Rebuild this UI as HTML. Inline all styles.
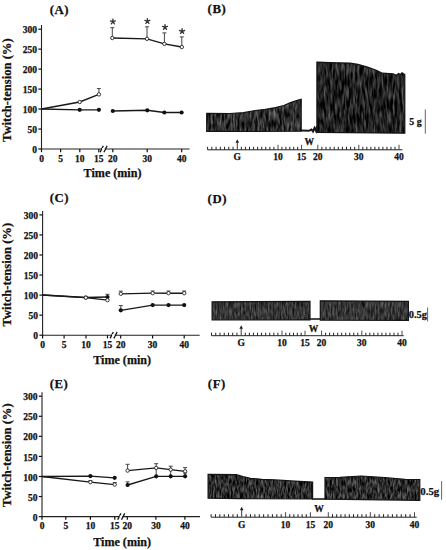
<!DOCTYPE html>
<html><head><meta charset="utf-8"><style>
html,body{margin:0;padding:0;background:#fff;}
svg{display:block;}
text{font-family:'Liberation Serif',serif;font-weight:bold;fill:#111;stroke:#111;stroke-width:0.25px;}
</style></head><body>
<svg width="446" height="550" viewBox="0 0 446 550">
<defs>
<filter id="ntexB1" x="0" y="0" width="100%" height="100%" color-interpolation-filters="sRGB"><feTurbulence type="fractalNoise" baseFrequency="0.45 0.1" numOctaves="2" seed="3"/><feColorMatrix type="matrix" values="0.75 0 0 0 -0.19  0.75 0 0 0 -0.19  0.75 0 0 0 -0.19  0 0 0 0 1"/></filter><filter id="ntexB" x="0" y="0" width="100%" height="100%" color-interpolation-filters="sRGB"><feTurbulence type="fractalNoise" baseFrequency="0.45 0.08" numOctaves="2" seed="7"/><feColorMatrix type="matrix" values="0.7 0 0 0 -0.22  0.7 0 0 0 -0.22  0.7 0 0 0 -0.22  0 0 0 0 1"/></filter><filter id="ntexD" x="0" y="0" width="100%" height="100%" color-interpolation-filters="sRGB"><feTurbulence type="fractalNoise" baseFrequency="0.6 0.12" numOctaves="2" seed="11"/><feColorMatrix type="matrix" values="0.5 0 0 0 -0.04  0.5 0 0 0 -0.04  0.5 0 0 0 -0.04  0 0 0 0 1"/></filter><filter id="ntexF" x="0" y="0" width="100%" height="100%" color-interpolation-filters="sRGB"><feTurbulence type="fractalNoise" baseFrequency="0.6 0.15" numOctaves="2" seed="5"/><feColorMatrix type="matrix" values="0.75 0 0 0 -0.2  0.75 0 0 0 -0.2  0.75 0 0 0 -0.2  0 0 0 0 1"/></filter>
</defs>
<rect width="446" height="550" fill="#fff"/>
<line x1="41.5" y1="25" x2="41.5" y2="149.5" stroke="#222" stroke-width="1.1"/>
<line x1="41.0" y1="149" x2="189.5" y2="149" stroke="#222" stroke-width="1.1"/>
<line x1="38.3" y1="149.00" x2="41.5" y2="149.00" stroke="#111" stroke-width="1.2"/>
<text x="37" y="153.10000000000002" font-size="9.5" text-anchor="end" >0</text>
<line x1="38.3" y1="129.03" x2="41.5" y2="129.03" stroke="#111" stroke-width="1.2"/>
<text x="37" y="133.12500000000003" font-size="9.5" text-anchor="end" >50</text>
<line x1="38.3" y1="109.05" x2="41.5" y2="109.05" stroke="#111" stroke-width="1.2"/>
<text x="37" y="113.14999999999999" font-size="9.5" text-anchor="end" >100</text>
<line x1="38.3" y1="89.07" x2="41.5" y2="89.07" stroke="#111" stroke-width="1.2"/>
<text x="37" y="93.17499999999998" font-size="9.5" text-anchor="end" >150</text>
<line x1="38.3" y1="69.10" x2="41.5" y2="69.10" stroke="#111" stroke-width="1.2"/>
<text x="37" y="73.19999999999999" font-size="9.5" text-anchor="end" >200</text>
<line x1="38.3" y1="49.12" x2="41.5" y2="49.12" stroke="#111" stroke-width="1.2"/>
<text x="37" y="53.224999999999994" font-size="9.5" text-anchor="end" >250</text>
<line x1="38.3" y1="29.15" x2="41.5" y2="29.15" stroke="#111" stroke-width="1.2"/>
<text x="37" y="33.249999999999986" font-size="9.5" text-anchor="end" >300</text>
<line x1="41.5" y1="149" x2="41.5" y2="152.2" stroke="#111" stroke-width="1.2"/>
<text x="41.5" y="162.2" font-size="9.5" text-anchor="middle" >0</text>
<line x1="60.6" y1="149" x2="60.6" y2="152.2" stroke="#111" stroke-width="1.2"/>
<text x="60.6" y="162.2" font-size="9.5" text-anchor="middle" >5</text>
<line x1="79.8" y1="149" x2="79.8" y2="152.2" stroke="#111" stroke-width="1.2"/>
<text x="79.8" y="162.2" font-size="9.5" text-anchor="middle" >10</text>
<line x1="98.8" y1="149" x2="98.8" y2="152.2" stroke="#111" stroke-width="1.2"/>
<text x="98.8" y="162.2" font-size="9.5" text-anchor="middle" >15</text>
<line x1="112.8" y1="149" x2="112.8" y2="152.2" stroke="#111" stroke-width="1.2"/>
<text x="112.8" y="162.2" font-size="9.5" text-anchor="middle" >20</text>
<line x1="147.2" y1="149" x2="147.2" y2="152.2" stroke="#111" stroke-width="1.2"/>
<text x="147.2" y="162.2" font-size="9.5" text-anchor="middle" >30</text>
<line x1="181.7" y1="149" x2="181.7" y2="152.2" stroke="#111" stroke-width="1.2"/>
<text x="181.7" y="162.2" font-size="9.5" text-anchor="middle" >40</text>
<path d="M100.1,152.2 L103.3,145.8 M103.89999999999999,152.2 L107.1,145.8" stroke="#111" stroke-width="1.3"/>
<rect x="102.1" y="148" width="2.5" height="2" fill="#fff"/>
<polyline points="41.5,109 79.7,102 98.9,94.4" fill="none" stroke="#181818" stroke-width="1.35"/>
<polyline points="112.3,38 147,38.8 164.4,43.9 181.8,47" fill="none" stroke="#181818" stroke-width="1.35"/>
<polyline points="41.5,109 79.7,109.8 98.9,109.8" fill="none" stroke="#181818" stroke-width="1.35"/>
<polyline points="112.8,111 147.3,110.3 164.3,112.5 181.6,112.5" fill="none" stroke="#181818" stroke-width="1.35"/>
<line x1="98.9" y1="88.6" x2="98.9" y2="94.4" stroke="#444" stroke-width="1"/>
<line x1="96.9" y1="88.6" x2="100.9" y2="88.6" stroke="#444" stroke-width="1"/>
<line x1="112.3" y1="27.7" x2="112.3" y2="38" stroke="#444" stroke-width="1"/>
<line x1="110.3" y1="27.7" x2="114.3" y2="27.7" stroke="#444" stroke-width="1"/>
<line x1="147" y1="26.8" x2="147" y2="38.8" stroke="#444" stroke-width="1"/>
<line x1="145" y1="26.8" x2="149" y2="26.8" stroke="#444" stroke-width="1"/>
<line x1="164.4" y1="32.9" x2="164.4" y2="43.9" stroke="#444" stroke-width="1"/>
<line x1="162.4" y1="32.9" x2="166.4" y2="32.9" stroke="#444" stroke-width="1"/>
<line x1="181.8" y1="36.9" x2="181.8" y2="47" stroke="#444" stroke-width="1"/>
<line x1="179.8" y1="36.9" x2="183.8" y2="36.9" stroke="#444" stroke-width="1"/>
<circle cx="79.7" cy="102" r="1.7" fill="#fff" stroke="#222" stroke-width="0.9"/>
<circle cx="98.9" cy="94.4" r="1.7" fill="#fff" stroke="#222" stroke-width="0.9"/>
<circle cx="112.3" cy="38" r="1.7" fill="#fff" stroke="#222" stroke-width="0.9"/>
<circle cx="147" cy="38.8" r="1.7" fill="#fff" stroke="#222" stroke-width="0.9"/>
<circle cx="164.4" cy="43.9" r="1.7" fill="#fff" stroke="#222" stroke-width="0.9"/>
<circle cx="181.8" cy="47" r="1.7" fill="#fff" stroke="#222" stroke-width="0.9"/>
<circle cx="79.7" cy="109.8" r="2.1" fill="#111"/>
<circle cx="98.9" cy="109.8" r="2.1" fill="#111"/>
<circle cx="112.8" cy="111" r="2.1" fill="#111"/>
<circle cx="147.3" cy="110.3" r="2.1" fill="#111"/>
<circle cx="164.3" cy="112.5" r="2.1" fill="#111"/>
<circle cx="181.6" cy="112.5" r="2.1" fill="#111"/>
<path d="M112.90,21.70 L112.90,19.10 M112.90,21.70 L115.37,20.90 M112.90,21.70 L114.43,23.80 M112.90,21.70 L111.37,23.80 M112.90,21.70 L110.43,20.90 " stroke="#333" stroke-width="1.35" stroke-linecap="round"/>
<path d="M147.40,21.20 L147.40,18.60 M147.40,21.20 L149.87,20.40 M147.40,21.20 L148.93,23.30 M147.40,21.20 L145.87,23.30 M147.40,21.20 L144.93,20.40 " stroke="#333" stroke-width="1.35" stroke-linecap="round"/>
<path d="M165.00,27.20 L165.00,24.60 M165.00,27.20 L167.47,26.40 M165.00,27.20 L166.53,29.30 M165.00,27.20 L163.47,29.30 M165.00,27.20 L162.53,26.40 " stroke="#333" stroke-width="1.35" stroke-linecap="round"/>
<path d="M182.10,31.30 L182.10,28.70 M182.10,31.30 L184.57,30.50 M182.10,31.30 L183.63,33.40 M182.10,31.30 L180.57,33.40 M182.10,31.30 L179.63,30.50 " stroke="#333" stroke-width="1.35" stroke-linecap="round"/>
<text x="49.8" y="13.6" font-size="12.8" text-anchor="start" letter-spacing="0.5">(A)</text>
<text x="0" y="0" font-size="12.6" transform="translate(11.4,142) rotate(-90)">Twitch-tension (%)</text>
<text x="83.6" y="176.9" font-size="12.1" text-anchor="start" >Time (min)</text>
<line x1="42.6" y1="211" x2="42.6" y2="335.7" stroke="#222" stroke-width="1.1"/>
<line x1="42.1" y1="335.2" x2="199.7" y2="335.2" stroke="#222" stroke-width="1.1"/>
<line x1="39.4" y1="335.20" x2="42.6" y2="335.20" stroke="#111" stroke-width="1.2"/>
<text x="38" y="339.3" font-size="9.5" text-anchor="end" >0</text>
<line x1="39.4" y1="315.15" x2="42.6" y2="315.15" stroke="#111" stroke-width="1.2"/>
<text x="38" y="319.25" font-size="9.5" text-anchor="end" >50</text>
<line x1="39.4" y1="295.10" x2="42.6" y2="295.10" stroke="#111" stroke-width="1.2"/>
<text x="38" y="299.2" font-size="9.5" text-anchor="end" >100</text>
<line x1="39.4" y1="275.05" x2="42.6" y2="275.05" stroke="#111" stroke-width="1.2"/>
<text x="38" y="279.15" font-size="9.5" text-anchor="end" >150</text>
<line x1="39.4" y1="255.00" x2="42.6" y2="255.00" stroke="#111" stroke-width="1.2"/>
<text x="38" y="259.1" font-size="9.5" text-anchor="end" >200</text>
<line x1="39.4" y1="234.95" x2="42.6" y2="234.95" stroke="#111" stroke-width="1.2"/>
<text x="38" y="239.05" font-size="9.5" text-anchor="end" >250</text>
<line x1="39.4" y1="214.90" x2="42.6" y2="214.90" stroke="#111" stroke-width="1.2"/>
<text x="38" y="219.0" font-size="9.5" text-anchor="end" >300</text>
<line x1="42.6" y1="335.2" x2="42.6" y2="338.4" stroke="#111" stroke-width="1.2"/>
<text x="42.6" y="348.3" font-size="9.5" text-anchor="middle" >0</text>
<line x1="64.1" y1="335.2" x2="64.1" y2="338.4" stroke="#111" stroke-width="1.2"/>
<text x="64.1" y="348.3" font-size="9.5" text-anchor="middle" >5</text>
<line x1="86" y1="335.2" x2="86" y2="338.4" stroke="#111" stroke-width="1.2"/>
<text x="86" y="348.3" font-size="9.5" text-anchor="middle" >10</text>
<line x1="107.5" y1="335.2" x2="107.5" y2="338.4" stroke="#111" stroke-width="1.2"/>
<text x="107.5" y="348.3" font-size="9.5" text-anchor="middle" >15</text>
<line x1="120.7" y1="335.2" x2="120.7" y2="338.4" stroke="#111" stroke-width="1.2"/>
<text x="120.7" y="348.3" font-size="9.5" text-anchor="middle" >20</text>
<line x1="152.6" y1="335.2" x2="152.6" y2="338.4" stroke="#111" stroke-width="1.2"/>
<text x="152.6" y="348.3" font-size="9.5" text-anchor="middle" >30</text>
<line x1="184.2" y1="335.2" x2="184.2" y2="338.4" stroke="#111" stroke-width="1.2"/>
<text x="184.2" y="348.3" font-size="9.5" text-anchor="middle" >40</text>
<path d="M110.1,338.4 L113.3,332.0 M113.89999999999999,338.4 L117.1,332.0" stroke="#111" stroke-width="1.3"/>
<rect x="112.1" y="334.2" width="2.5" height="2" fill="#fff"/>
<polyline points="42.6,295 85.8,297.5 107.5,297" fill="none" stroke="#181818" stroke-width="1.35"/>
<polyline points="120.8,310.3 152.7,305.1 168.5,305.1 184.2,305.1" fill="none" stroke="#181818" stroke-width="1.35"/>
<polyline points="42.6,295 85.8,297.7 107.5,300.2" fill="none" stroke="#181818" stroke-width="1.35"/>
<polyline points="120.8,293.8 152.7,293.2 168.5,293.2 184.2,293.2" fill="none" stroke="#181818" stroke-width="1.35"/>
<line x1="107.5" y1="294.3" x2="107.5" y2="297" stroke="#444" stroke-width="1"/>
<line x1="105.5" y1="294.3" x2="109.5" y2="294.3" stroke="#444" stroke-width="1"/>
<line x1="120.8" y1="305.6" x2="120.8" y2="310.3" stroke="#444" stroke-width="1"/>
<line x1="118.8" y1="305.6" x2="122.8" y2="305.6" stroke="#444" stroke-width="1"/>
<line x1="120.8" y1="291.2" x2="120.8" y2="293.8" stroke="#444" stroke-width="1"/>
<line x1="118.8" y1="291.2" x2="122.8" y2="291.2" stroke="#444" stroke-width="1"/>
<line x1="152.7" y1="291" x2="152.7" y2="293.2" stroke="#444" stroke-width="1"/>
<line x1="150.7" y1="291" x2="154.7" y2="291" stroke="#444" stroke-width="1"/>
<line x1="168.5" y1="291" x2="168.5" y2="293.2" stroke="#444" stroke-width="1"/>
<line x1="166.5" y1="291" x2="170.5" y2="291" stroke="#444" stroke-width="1"/>
<line x1="184.2" y1="291" x2="184.2" y2="293.2" stroke="#444" stroke-width="1"/>
<line x1="182.2" y1="291" x2="186.2" y2="291" stroke="#444" stroke-width="1"/>
<circle cx="85.8" cy="297.5" r="2.1" fill="#111"/>
<circle cx="107.5" cy="297" r="2.1" fill="#111"/>
<circle cx="120.8" cy="310.3" r="2.1" fill="#111"/>
<circle cx="152.7" cy="305.1" r="2.1" fill="#111"/>
<circle cx="168.5" cy="305.1" r="2.1" fill="#111"/>
<circle cx="184.2" cy="305.1" r="2.1" fill="#111"/>
<circle cx="85.8" cy="297.7" r="1.7" fill="#fff" stroke="#222" stroke-width="0.9"/>
<circle cx="107.5" cy="300.2" r="1.7" fill="#fff" stroke="#222" stroke-width="0.9"/>
<circle cx="120.8" cy="293.8" r="1.7" fill="#fff" stroke="#222" stroke-width="0.9"/>
<circle cx="152.7" cy="293.2" r="1.7" fill="#fff" stroke="#222" stroke-width="0.9"/>
<circle cx="168.5" cy="293.2" r="1.7" fill="#fff" stroke="#222" stroke-width="0.9"/>
<circle cx="184.2" cy="293.2" r="1.7" fill="#fff" stroke="#222" stroke-width="0.9"/>
<text x="49.7" y="202.4" font-size="12.8" text-anchor="start" letter-spacing="0.5">(C)</text>
<text x="0" y="0" font-size="12.6" transform="translate(11.4,326.5) rotate(-90)">Twitch-tension (%)</text>
<text x="93.2" y="364.4" font-size="12.1" text-anchor="start" >Time (min)</text>
<line x1="42" y1="392.2" x2="42" y2="517.1" stroke="#222" stroke-width="1.1"/>
<line x1="41.5" y1="516.6" x2="200" y2="516.6" stroke="#222" stroke-width="1.1"/>
<line x1="38.8" y1="516.60" x2="42" y2="516.60" stroke="#111" stroke-width="1.2"/>
<text x="37.5" y="520.6999999999999" font-size="9.5" text-anchor="end" >0</text>
<line x1="38.8" y1="496.54" x2="42" y2="496.54" stroke="#111" stroke-width="1.2"/>
<text x="37.5" y="500.63500000000005" font-size="9.5" text-anchor="end" >50</text>
<line x1="38.8" y1="476.47" x2="42" y2="476.47" stroke="#111" stroke-width="1.2"/>
<text x="37.5" y="480.57000000000005" font-size="9.5" text-anchor="end" >100</text>
<line x1="38.8" y1="456.41" x2="42" y2="456.41" stroke="#111" stroke-width="1.2"/>
<text x="37.5" y="460.50500000000005" font-size="9.5" text-anchor="end" >150</text>
<line x1="38.8" y1="436.34" x2="42" y2="436.34" stroke="#111" stroke-width="1.2"/>
<text x="37.5" y="440.44000000000005" font-size="9.5" text-anchor="end" >200</text>
<line x1="38.8" y1="416.28" x2="42" y2="416.28" stroke="#111" stroke-width="1.2"/>
<text x="37.5" y="420.37500000000006" font-size="9.5" text-anchor="end" >250</text>
<line x1="38.8" y1="396.21" x2="42" y2="396.21" stroke="#111" stroke-width="1.2"/>
<text x="37.5" y="400.31000000000006" font-size="9.5" text-anchor="end" >300</text>
<line x1="42" y1="516.6" x2="42" y2="519.8000000000001" stroke="#111" stroke-width="1.2"/>
<text x="42" y="529" font-size="9.5" text-anchor="middle" >0</text>
<line x1="65.8" y1="516.6" x2="65.8" y2="519.8000000000001" stroke="#111" stroke-width="1.2"/>
<text x="65.8" y="529" font-size="9.5" text-anchor="middle" >5</text>
<line x1="90.4" y1="516.6" x2="90.4" y2="519.8000000000001" stroke="#111" stroke-width="1.2"/>
<text x="90.4" y="529" font-size="9.5" text-anchor="middle" >10</text>
<line x1="114.8" y1="516.6" x2="114.8" y2="519.8000000000001" stroke="#111" stroke-width="1.2"/>
<text x="114.8" y="529" font-size="9.5" text-anchor="middle" >15</text>
<line x1="127.3" y1="516.6" x2="127.3" y2="519.8000000000001" stroke="#111" stroke-width="1.2"/>
<text x="127.3" y="529" font-size="9.5" text-anchor="middle" >20</text>
<line x1="155.9" y1="516.6" x2="155.9" y2="519.8000000000001" stroke="#111" stroke-width="1.2"/>
<text x="155.9" y="529" font-size="9.5" text-anchor="middle" >30</text>
<line x1="184.9" y1="516.6" x2="184.9" y2="519.8000000000001" stroke="#111" stroke-width="1.2"/>
<text x="184.9" y="529" font-size="9.5" text-anchor="middle" >40</text>
<path d="M117.7,519.8000000000001 L120.9,513.4 M121.5,519.8000000000001 L124.7,513.4" stroke="#111" stroke-width="1.3"/>
<rect x="119.7" y="515.6" width="2.5" height="2" fill="#fff"/>
<polyline points="42,476.5 90.4,482.2 114.7,484.6" fill="none" stroke="#181818" stroke-width="1.35"/>
<polyline points="127.6,470.6 156.2,467.9 170.7,469.6 185.1,471.3" fill="none" stroke="#181818" stroke-width="1.35"/>
<polyline points="42,476.5 90.4,476.1 114.7,477.8" fill="none" stroke="#181818" stroke-width="1.35"/>
<polyline points="127.6,485 156.2,476.3 170.7,476.3 185.1,476.3" fill="none" stroke="#181818" stroke-width="1.35"/>
<line x1="156.2" y1="467.9" x2="156.2" y2="475" stroke="#444" stroke-width="1"/>
<line x1="170.7" y1="469.6" x2="170.7" y2="475" stroke="#444" stroke-width="1"/>
<line x1="185.1" y1="471.3" x2="185.1" y2="475" stroke="#444" stroke-width="1"/>
<line x1="90.4" y1="480.6" x2="90.4" y2="482.2" stroke="#444" stroke-width="1"/>
<line x1="88.4" y1="480.6" x2="92.4" y2="480.6" stroke="#444" stroke-width="1"/>
<line x1="114.7" y1="482.6" x2="114.7" y2="484.6" stroke="#444" stroke-width="1"/>
<line x1="112.7" y1="482.6" x2="116.7" y2="482.6" stroke="#444" stroke-width="1"/>
<line x1="127.6" y1="464.3" x2="127.6" y2="470.6" stroke="#444" stroke-width="1"/>
<line x1="125.6" y1="464.3" x2="129.6" y2="464.3" stroke="#444" stroke-width="1"/>
<line x1="156.2" y1="463.7" x2="156.2" y2="467.9" stroke="#444" stroke-width="1"/>
<line x1="154.2" y1="463.7" x2="158.2" y2="463.7" stroke="#444" stroke-width="1"/>
<line x1="170.7" y1="466.2" x2="170.7" y2="469.6" stroke="#444" stroke-width="1"/>
<line x1="168.7" y1="466.2" x2="172.7" y2="466.2" stroke="#444" stroke-width="1"/>
<line x1="185.1" y1="467.6" x2="185.1" y2="471.3" stroke="#444" stroke-width="1"/>
<line x1="183.1" y1="467.6" x2="187.1" y2="467.6" stroke="#444" stroke-width="1"/>
<line x1="127.6" y1="481.9" x2="127.6" y2="485" stroke="#444" stroke-width="1"/>
<line x1="125.6" y1="481.9" x2="129.6" y2="481.9" stroke="#444" stroke-width="1"/>
<line x1="185.1" y1="473" x2="185.1" y2="476.3" stroke="#444" stroke-width="1"/>
<line x1="183.1" y1="473" x2="187.1" y2="473" stroke="#444" stroke-width="1"/>
<circle cx="90.4" cy="482.2" r="1.7" fill="#fff" stroke="#222" stroke-width="0.9"/>
<circle cx="114.7" cy="484.6" r="1.7" fill="#fff" stroke="#222" stroke-width="0.9"/>
<circle cx="127.6" cy="470.6" r="1.7" fill="#fff" stroke="#222" stroke-width="0.9"/>
<circle cx="156.2" cy="467.9" r="1.7" fill="#fff" stroke="#222" stroke-width="0.9"/>
<circle cx="170.7" cy="469.6" r="1.7" fill="#fff" stroke="#222" stroke-width="0.9"/>
<circle cx="185.1" cy="471.3" r="1.7" fill="#fff" stroke="#222" stroke-width="0.9"/>
<circle cx="90.4" cy="476.1" r="2.1" fill="#111"/>
<circle cx="114.7" cy="477.8" r="2.1" fill="#111"/>
<circle cx="127.6" cy="485" r="2.1" fill="#111"/>
<circle cx="156.2" cy="476.3" r="2.1" fill="#111"/>
<circle cx="170.7" cy="476.3" r="2.1" fill="#111"/>
<circle cx="185.1" cy="476.3" r="2.1" fill="#111"/>
<text x="49.7" y="387.5" font-size="12.8" text-anchor="start" letter-spacing="0.5">(E)</text>
<text x="0" y="0" font-size="12.6" transform="translate(11.4,507) rotate(-90)">Twitch-tension (%)</text>
<text x="93.2" y="545.5" font-size="12.1" text-anchor="start" >Time (min)</text>
<clipPath id="clip198"><polygon points="206.7,113.3 230,113.5 243.5,112.7 255.2,110.5 265.3,109.3 275.4,107.7 283.8,105.5 290.5,102.6 297.3,100.4 301.2,99.2 301.2,131.2 206.7,131.4"/></clipPath>
<rect x="205.7" y="98.2" width="96.5" height="34.2" filter="url(#ntexB1)" clip-path="url(#clip198)"/>
<polygon points="206.7,113.3 230,113.5 243.5,112.7 255.2,110.5 265.3,109.3 275.4,107.7 283.8,105.5 290.5,102.6 297.3,100.4 301.2,99.2 301.2,131.2 206.7,131.4" fill="none" stroke="#141414" stroke-width="1.2"/>
<clipPath id="clip201"><polygon points="316.9,62.2 330,62.7 350,63.1 358,64.4 367.5,67.1 376.9,70.5 382.3,73.2 393,73.8 396.4,75.2 398.5,73.5 400.5,74.5 402,72.8 404.8,74.5 404.8,133.2 316.9,132.4"/></clipPath>
<rect x="315.9" y="61.2" width="89.90000000000003" height="72.99999999999999" filter="url(#ntexB)" clip-path="url(#clip201)"/>
<polygon points="316.9,62.2 330,62.7 350,63.1 358,64.4 367.5,67.1 376.9,70.5 382.3,73.2 393,73.8 396.4,75.2 398.5,73.5 400.5,74.5 402,72.8 404.8,74.5 404.8,133.2 316.9,132.4" fill="none" stroke="#141414" stroke-width="1.2"/>
<polyline points="301,130.4 309,130.8 311.5,129.5 313,131.5 314.5,128 316,131 317,126" fill="none" stroke="#1a1a1a" stroke-width="2.0"/>
<line x1="207.6" y1="149.8" x2="402.5" y2="149.8" stroke="#222" stroke-width="1"/>
<line x1="207.60" y1="146.8" x2="207.60" y2="149.8" stroke="#222" stroke-width="1"/>
<line x1="211.84" y1="146.8" x2="211.84" y2="149.8" stroke="#222" stroke-width="1"/>
<line x1="216.09" y1="146.8" x2="216.09" y2="149.8" stroke="#222" stroke-width="1"/>
<line x1="220.33" y1="146.8" x2="220.33" y2="149.8" stroke="#222" stroke-width="1"/>
<line x1="224.57" y1="146.8" x2="224.57" y2="149.8" stroke="#222" stroke-width="1"/>
<line x1="228.81" y1="146.8" x2="228.81" y2="149.8" stroke="#222" stroke-width="1"/>
<line x1="233.06" y1="146.8" x2="233.06" y2="149.8" stroke="#222" stroke-width="1"/>
<line x1="241.37" y1="146.8" x2="241.37" y2="149.8" stroke="#222" stroke-width="1"/>
<line x1="245.44" y1="146.8" x2="245.44" y2="149.8" stroke="#222" stroke-width="1"/>
<line x1="249.51" y1="146.8" x2="249.51" y2="149.8" stroke="#222" stroke-width="1"/>
<line x1="253.58" y1="146.8" x2="253.58" y2="149.8" stroke="#222" stroke-width="1"/>
<line x1="257.65" y1="146.8" x2="257.65" y2="149.8" stroke="#222" stroke-width="1"/>
<line x1="261.72" y1="146.8" x2="261.72" y2="149.8" stroke="#222" stroke-width="1"/>
<line x1="265.79" y1="146.8" x2="265.79" y2="149.8" stroke="#222" stroke-width="1"/>
<line x1="269.86" y1="146.8" x2="269.86" y2="149.8" stroke="#222" stroke-width="1"/>
<line x1="273.93" y1="146.8" x2="273.93" y2="149.8" stroke="#222" stroke-width="1"/>
<line x1="281.93" y1="146.8" x2="281.93" y2="149.8" stroke="#222" stroke-width="1"/>
<line x1="285.87" y1="146.8" x2="285.87" y2="149.8" stroke="#222" stroke-width="1"/>
<line x1="289.80" y1="146.8" x2="289.80" y2="149.8" stroke="#222" stroke-width="1"/>
<line x1="293.73" y1="146.8" x2="293.73" y2="149.8" stroke="#222" stroke-width="1"/>
<line x1="297.67" y1="146.8" x2="297.67" y2="149.8" stroke="#222" stroke-width="1"/>
<line x1="321.90" y1="146.8" x2="321.90" y2="149.8" stroke="#222" stroke-width="1"/>
<line x1="326.00" y1="146.8" x2="326.00" y2="149.8" stroke="#222" stroke-width="1"/>
<line x1="330.10" y1="146.8" x2="330.10" y2="149.8" stroke="#222" stroke-width="1"/>
<line x1="334.20" y1="146.8" x2="334.20" y2="149.8" stroke="#222" stroke-width="1"/>
<line x1="338.30" y1="146.8" x2="338.30" y2="149.8" stroke="#222" stroke-width="1"/>
<line x1="342.40" y1="146.8" x2="342.40" y2="149.8" stroke="#222" stroke-width="1"/>
<line x1="346.50" y1="146.8" x2="346.50" y2="149.8" stroke="#222" stroke-width="1"/>
<line x1="350.60" y1="146.8" x2="350.60" y2="149.8" stroke="#222" stroke-width="1"/>
<line x1="354.70" y1="146.8" x2="354.70" y2="149.8" stroke="#222" stroke-width="1"/>
<line x1="362.82" y1="146.8" x2="362.82" y2="149.8" stroke="#222" stroke-width="1"/>
<line x1="366.84" y1="146.8" x2="366.84" y2="149.8" stroke="#222" stroke-width="1"/>
<line x1="370.86" y1="146.8" x2="370.86" y2="149.8" stroke="#222" stroke-width="1"/>
<line x1="374.88" y1="146.8" x2="374.88" y2="149.8" stroke="#222" stroke-width="1"/>
<line x1="378.90" y1="146.8" x2="378.90" y2="149.8" stroke="#222" stroke-width="1"/>
<line x1="382.92" y1="146.8" x2="382.92" y2="149.8" stroke="#222" stroke-width="1"/>
<line x1="386.94" y1="146.8" x2="386.94" y2="149.8" stroke="#222" stroke-width="1"/>
<line x1="390.96" y1="146.8" x2="390.96" y2="149.8" stroke="#222" stroke-width="1"/>
<line x1="394.98" y1="146.8" x2="394.98" y2="149.8" stroke="#222" stroke-width="1"/>
<line x1="278" y1="144.8" x2="278" y2="149.8" stroke="#333" stroke-width="0.9"/>
<text x="278" y="160" font-size="9.5" text-anchor="middle" >10</text>
<line x1="301.6" y1="144.8" x2="301.6" y2="149.8" stroke="#333" stroke-width="0.9"/>
<text x="301.6" y="160" font-size="9.5" text-anchor="middle" >15</text>
<line x1="317.8" y1="144.8" x2="317.8" y2="149.8" stroke="#333" stroke-width="0.9"/>
<text x="317.8" y="160" font-size="9.5" text-anchor="middle" >20</text>
<line x1="358.8" y1="144.8" x2="358.8" y2="149.8" stroke="#333" stroke-width="0.9"/>
<text x="358.8" y="160" font-size="9.5" text-anchor="middle" >30</text>
<line x1="399" y1="144.8" x2="399" y2="149.8" stroke="#333" stroke-width="0.9"/>
<text x="399" y="160" font-size="9.5" text-anchor="middle" >40</text>
<line x1="237.3" y1="149.3" x2="237.3" y2="141.8" stroke="#222" stroke-width="0.9"/>
<path d="M235.5,142.8 L237.3,139.3 L239.10000000000002,142.8 Z" fill="#222"/>
<text x="237.3" y="160" font-size="9.5" text-anchor="middle" >G</text>
<text x="309.3" y="145.3" font-size="9.5" text-anchor="middle" >W</text>
<text x="409.3" y="124.7" font-size="9.8" text-anchor="start" >5 g</text>
<line x1="425.3" y1="109.4" x2="425.3" y2="133.7" stroke="#666" stroke-width="1"/>
<text x="207.6" y="13.2" font-size="12.8" text-anchor="start" letter-spacing="0.6">(B)</text>
<clipPath id="clip262"><polygon points="212.1,301.8 310,301.4 310,319.9 212.1,319.8"/></clipPath>
<rect x="211.1" y="300.4" width="99.9" height="20.5" filter="url(#ntexD)" clip-path="url(#clip262)"/>
<polygon points="212.1,301.8 310,301.4 310,319.9 212.1,319.8" fill="none" stroke="#141414" stroke-width="1.2"/>
<clipPath id="clip265"><polygon points="320.3,300.8 408.4,301.3 408.4,320.3 320.3,320.1"/></clipPath>
<rect x="319.3" y="299.8" width="90.09999999999997" height="21.5" filter="url(#ntexD)" clip-path="url(#clip265)"/>
<polygon points="320.3,300.8 408.4,301.3 408.4,320.3 320.3,320.1" fill="none" stroke="#141414" stroke-width="1.2"/>
<polyline points="309.5,319 321,319" fill="none" stroke="#1a1a1a" stroke-width="1.6"/>
<line x1="211.5" y1="335.7" x2="403.7" y2="335.7" stroke="#222" stroke-width="1"/>
<line x1="211.50" y1="332.7" x2="211.50" y2="335.7" stroke="#222" stroke-width="1"/>
<line x1="215.74" y1="332.7" x2="215.74" y2="335.7" stroke="#222" stroke-width="1"/>
<line x1="219.99" y1="332.7" x2="219.99" y2="335.7" stroke="#222" stroke-width="1"/>
<line x1="224.23" y1="332.7" x2="224.23" y2="335.7" stroke="#222" stroke-width="1"/>
<line x1="228.47" y1="332.7" x2="228.47" y2="335.7" stroke="#222" stroke-width="1"/>
<line x1="232.71" y1="332.7" x2="232.71" y2="335.7" stroke="#222" stroke-width="1"/>
<line x1="236.96" y1="332.7" x2="236.96" y2="335.7" stroke="#222" stroke-width="1"/>
<line x1="245.28" y1="332.7" x2="245.28" y2="335.7" stroke="#222" stroke-width="1"/>
<line x1="249.36" y1="332.7" x2="249.36" y2="335.7" stroke="#222" stroke-width="1"/>
<line x1="253.44" y1="332.7" x2="253.44" y2="335.7" stroke="#222" stroke-width="1"/>
<line x1="257.52" y1="332.7" x2="257.52" y2="335.7" stroke="#222" stroke-width="1"/>
<line x1="261.60" y1="332.7" x2="261.60" y2="335.7" stroke="#222" stroke-width="1"/>
<line x1="265.68" y1="332.7" x2="265.68" y2="335.7" stroke="#222" stroke-width="1"/>
<line x1="269.76" y1="332.7" x2="269.76" y2="335.7" stroke="#222" stroke-width="1"/>
<line x1="273.84" y1="332.7" x2="273.84" y2="335.7" stroke="#222" stroke-width="1"/>
<line x1="277.92" y1="332.7" x2="277.92" y2="335.7" stroke="#222" stroke-width="1"/>
<line x1="285.83" y1="332.7" x2="285.83" y2="335.7" stroke="#222" stroke-width="1"/>
<line x1="289.67" y1="332.7" x2="289.67" y2="335.7" stroke="#222" stroke-width="1"/>
<line x1="293.50" y1="332.7" x2="293.50" y2="335.7" stroke="#222" stroke-width="1"/>
<line x1="297.33" y1="332.7" x2="297.33" y2="335.7" stroke="#222" stroke-width="1"/>
<line x1="301.17" y1="332.7" x2="301.17" y2="335.7" stroke="#222" stroke-width="1"/>
<line x1="325.62" y1="332.7" x2="325.62" y2="335.7" stroke="#222" stroke-width="1"/>
<line x1="329.64" y1="332.7" x2="329.64" y2="335.7" stroke="#222" stroke-width="1"/>
<line x1="333.66" y1="332.7" x2="333.66" y2="335.7" stroke="#222" stroke-width="1"/>
<line x1="337.68" y1="332.7" x2="337.68" y2="335.7" stroke="#222" stroke-width="1"/>
<line x1="341.70" y1="332.7" x2="341.70" y2="335.7" stroke="#222" stroke-width="1"/>
<line x1="345.72" y1="332.7" x2="345.72" y2="335.7" stroke="#222" stroke-width="1"/>
<line x1="349.74" y1="332.7" x2="349.74" y2="335.7" stroke="#222" stroke-width="1"/>
<line x1="353.76" y1="332.7" x2="353.76" y2="335.7" stroke="#222" stroke-width="1"/>
<line x1="357.78" y1="332.7" x2="357.78" y2="335.7" stroke="#222" stroke-width="1"/>
<line x1="365.82" y1="332.7" x2="365.82" y2="335.7" stroke="#222" stroke-width="1"/>
<line x1="369.84" y1="332.7" x2="369.84" y2="335.7" stroke="#222" stroke-width="1"/>
<line x1="373.86" y1="332.7" x2="373.86" y2="335.7" stroke="#222" stroke-width="1"/>
<line x1="377.88" y1="332.7" x2="377.88" y2="335.7" stroke="#222" stroke-width="1"/>
<line x1="381.90" y1="332.7" x2="381.90" y2="335.7" stroke="#222" stroke-width="1"/>
<line x1="385.92" y1="332.7" x2="385.92" y2="335.7" stroke="#222" stroke-width="1"/>
<line x1="389.94" y1="332.7" x2="389.94" y2="335.7" stroke="#222" stroke-width="1"/>
<line x1="393.96" y1="332.7" x2="393.96" y2="335.7" stroke="#222" stroke-width="1"/>
<line x1="397.98" y1="332.7" x2="397.98" y2="335.7" stroke="#222" stroke-width="1"/>
<line x1="282" y1="330.7" x2="282" y2="335.7" stroke="#333" stroke-width="0.9"/>
<text x="282" y="346.3" font-size="9.5" text-anchor="middle" >10</text>
<line x1="305" y1="330.7" x2="305" y2="335.7" stroke="#333" stroke-width="0.9"/>
<text x="305" y="346.3" font-size="9.5" text-anchor="middle" >15</text>
<line x1="321.6" y1="330.7" x2="321.6" y2="335.7" stroke="#333" stroke-width="0.9"/>
<text x="321.6" y="346.3" font-size="9.5" text-anchor="middle" >20</text>
<line x1="361.8" y1="330.7" x2="361.8" y2="335.7" stroke="#333" stroke-width="0.9"/>
<text x="361.8" y="346.3" font-size="9.5" text-anchor="middle" >30</text>
<line x1="402" y1="330.7" x2="402" y2="335.7" stroke="#333" stroke-width="0.9"/>
<text x="402" y="346.3" font-size="9.5" text-anchor="middle" >40</text>
<line x1="241.2" y1="335.2" x2="241.2" y2="327.7" stroke="#222" stroke-width="0.9"/>
<path d="M239.39999999999998,328.7 L241.2,325.2 L243.0,328.7 Z" fill="#222"/>
<text x="241.2" y="346.3" font-size="9.5" text-anchor="middle" >G</text>
<text x="313.5" y="332.1" font-size="9.5" text-anchor="middle" >W</text>
<text x="408.8" y="318.3" font-size="10.4" text-anchor="start" >0.5g</text>
<line x1="427.6" y1="307.5" x2="427.6" y2="321.4" stroke="#666" stroke-width="1"/>
<text x="207.6" y="203.3" font-size="12.8" text-anchor="start" letter-spacing="0.6">(D)</text>
<clipPath id="clip326"><polygon points="208.1,474.4 236.4,474.7 243,476.5 250.5,478.3 262,479.3 275,479.9 295,481.2 312.6,482.1 312.6,499 240,498.7 208.1,498.2"/></clipPath>
<rect x="207.1" y="473.4" width="106.50000000000003" height="26.600000000000023" filter="url(#ntexF)" clip-path="url(#clip326)"/>
<polygon points="208.1,474.4 236.4,474.7 243,476.5 250.5,478.3 262,479.3 275,479.9 295,481.2 312.6,482.1 312.6,499 240,498.7 208.1,498.2" fill="none" stroke="#141414" stroke-width="1.2"/>
<clipPath id="clip329"><polygon points="325,477.5 340,477.3 361,476 385,477.5 405,479.4 419.8,479.5 419.8,500.3 325,499.2"/></clipPath>
<rect x="324" y="475" width="96.80000000000001" height="26.30000000000001" filter="url(#ntexF)" clip-path="url(#clip329)"/>
<polygon points="325,477.5 340,477.3 361,476 385,477.5 405,479.4 419.8,479.5 419.8,500.3 325,499.2" fill="none" stroke="#141414" stroke-width="1.2"/>
<polyline points="312,499 326,499" fill="none" stroke="#1a1a1a" stroke-width="1.6"/>
<line x1="211.1" y1="517.2" x2="416.7" y2="517.2" stroke="#222" stroke-width="1"/>
<line x1="211.10" y1="514.2" x2="211.10" y2="517.2" stroke="#222" stroke-width="1"/>
<line x1="215.47" y1="514.2" x2="215.47" y2="517.2" stroke="#222" stroke-width="1"/>
<line x1="219.84" y1="514.2" x2="219.84" y2="517.2" stroke="#222" stroke-width="1"/>
<line x1="224.21" y1="514.2" x2="224.21" y2="517.2" stroke="#222" stroke-width="1"/>
<line x1="228.59" y1="514.2" x2="228.59" y2="517.2" stroke="#222" stroke-width="1"/>
<line x1="232.96" y1="514.2" x2="232.96" y2="517.2" stroke="#222" stroke-width="1"/>
<line x1="237.33" y1="514.2" x2="237.33" y2="517.2" stroke="#222" stroke-width="1"/>
<line x1="246.09" y1="514.2" x2="246.09" y2="517.2" stroke="#222" stroke-width="1"/>
<line x1="250.48" y1="514.2" x2="250.48" y2="517.2" stroke="#222" stroke-width="1"/>
<line x1="254.87" y1="514.2" x2="254.87" y2="517.2" stroke="#222" stroke-width="1"/>
<line x1="259.26" y1="514.2" x2="259.26" y2="517.2" stroke="#222" stroke-width="1"/>
<line x1="263.65" y1="514.2" x2="263.65" y2="517.2" stroke="#222" stroke-width="1"/>
<line x1="268.04" y1="514.2" x2="268.04" y2="517.2" stroke="#222" stroke-width="1"/>
<line x1="272.43" y1="514.2" x2="272.43" y2="517.2" stroke="#222" stroke-width="1"/>
<line x1="276.82" y1="514.2" x2="276.82" y2="517.2" stroke="#222" stroke-width="1"/>
<line x1="281.21" y1="514.2" x2="281.21" y2="517.2" stroke="#222" stroke-width="1"/>
<line x1="289.73" y1="514.2" x2="289.73" y2="517.2" stroke="#222" stroke-width="1"/>
<line x1="293.87" y1="514.2" x2="293.87" y2="517.2" stroke="#222" stroke-width="1"/>
<line x1="298.00" y1="514.2" x2="298.00" y2="517.2" stroke="#222" stroke-width="1"/>
<line x1="302.13" y1="514.2" x2="302.13" y2="517.2" stroke="#222" stroke-width="1"/>
<line x1="306.27" y1="514.2" x2="306.27" y2="517.2" stroke="#222" stroke-width="1"/>
<line x1="332.50" y1="514.2" x2="332.50" y2="517.2" stroke="#222" stroke-width="1"/>
<line x1="336.70" y1="514.2" x2="336.70" y2="517.2" stroke="#222" stroke-width="1"/>
<line x1="340.90" y1="514.2" x2="340.90" y2="517.2" stroke="#222" stroke-width="1"/>
<line x1="345.10" y1="514.2" x2="345.10" y2="517.2" stroke="#222" stroke-width="1"/>
<line x1="349.30" y1="514.2" x2="349.30" y2="517.2" stroke="#222" stroke-width="1"/>
<line x1="353.50" y1="514.2" x2="353.50" y2="517.2" stroke="#222" stroke-width="1"/>
<line x1="357.70" y1="514.2" x2="357.70" y2="517.2" stroke="#222" stroke-width="1"/>
<line x1="361.90" y1="514.2" x2="361.90" y2="517.2" stroke="#222" stroke-width="1"/>
<line x1="366.10" y1="514.2" x2="366.10" y2="517.2" stroke="#222" stroke-width="1"/>
<line x1="374.72" y1="514.2" x2="374.72" y2="517.2" stroke="#222" stroke-width="1"/>
<line x1="379.14" y1="514.2" x2="379.14" y2="517.2" stroke="#222" stroke-width="1"/>
<line x1="383.56" y1="514.2" x2="383.56" y2="517.2" stroke="#222" stroke-width="1"/>
<line x1="387.98" y1="514.2" x2="387.98" y2="517.2" stroke="#222" stroke-width="1"/>
<line x1="392.40" y1="514.2" x2="392.40" y2="517.2" stroke="#222" stroke-width="1"/>
<line x1="396.82" y1="514.2" x2="396.82" y2="517.2" stroke="#222" stroke-width="1"/>
<line x1="401.24" y1="514.2" x2="401.24" y2="517.2" stroke="#222" stroke-width="1"/>
<line x1="405.66" y1="514.2" x2="405.66" y2="517.2" stroke="#222" stroke-width="1"/>
<line x1="410.08" y1="514.2" x2="410.08" y2="517.2" stroke="#222" stroke-width="1"/>
<line x1="285.6" y1="512.2" x2="285.6" y2="517.2" stroke="#333" stroke-width="0.9"/>
<text x="285.6" y="527.7" font-size="9.5" text-anchor="middle" >10</text>
<line x1="310.4" y1="512.2" x2="310.4" y2="517.2" stroke="#333" stroke-width="0.9"/>
<text x="310.4" y="527.7" font-size="9.5" text-anchor="middle" >15</text>
<line x1="328.3" y1="512.2" x2="328.3" y2="517.2" stroke="#333" stroke-width="0.9"/>
<text x="328.3" y="527.7" font-size="9.5" text-anchor="middle" >20</text>
<line x1="370.3" y1="512.2" x2="370.3" y2="517.2" stroke="#333" stroke-width="0.9"/>
<text x="370.3" y="527.7" font-size="9.5" text-anchor="middle" >30</text>
<line x1="414.5" y1="512.2" x2="414.5" y2="517.2" stroke="#333" stroke-width="0.9"/>
<text x="414.5" y="527.7" font-size="9.5" text-anchor="middle" >40</text>
<line x1="241.7" y1="516.7" x2="241.7" y2="509.20000000000005" stroke="#222" stroke-width="0.9"/>
<path d="M239.89999999999998,510.20000000000005 L241.7,506.70000000000005 L243.5,510.20000000000005 Z" fill="#222"/>
<text x="241.7" y="527.7" font-size="9.5" text-anchor="middle" >G</text>
<text x="318.9" y="511.9" font-size="9.5" text-anchor="middle" >W</text>
<text x="420.3" y="495.3" font-size="10.8" text-anchor="start" >0.5g</text>
<line x1="441.6" y1="481.2" x2="441.6" y2="499.7" stroke="#666" stroke-width="1"/>
<text x="207.8" y="388.4" font-size="12.8" text-anchor="start" letter-spacing="0.6">(F)</text>
</svg>
</body></html>
